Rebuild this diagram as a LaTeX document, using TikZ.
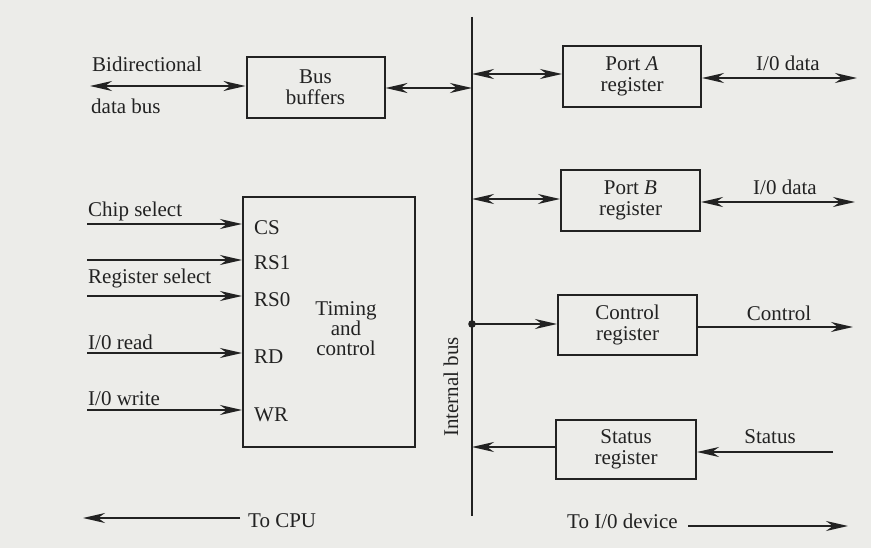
\documentclass[tikz,border=0pt]{standalone}
\usepackage{fontspec}
\setmainfont{Liberation Serif}
\usetikzlibrary{arrows.meta,calc}
\definecolor{paper}{RGB}{236,236,233}
\definecolor{ink}{RGB}{34,34,34}
\tikzset{
  blk/.style={draw=ink, line width=2pt, minimum width=#1, align=center, inner sep=0pt, text=ink},
  lbl/.style={text=ink, inner sep=0pt},
  wire/.style={draw=ink, line width=2pt},
  tip/.style={-{Stealth[length=22pt,width=10pt,inset=7pt]}},
  tip2/.style={{Stealth[length=22pt,width=10pt,inset=7pt]}-{Stealth[length=22pt,width=10pt,inset=7pt]}},
}
\begin{document}
\begin{tikzpicture}[x=1pt,y=-1pt,font=\fontsize{21}{21}\selectfont]
\fill[paper] (0,0) rectangle (871,548);
\useasboundingbox (0,0) rectangle (871,548);

% blocks
\node[blk=138pt, minimum height=61pt] (bb) at (315.5,87.5) {Bus\\[0pt]buffers};
\node[blk=138pt, minimum height=61pt] (pa) at (632,76.5) {Port \textit{A}\\[0pt]register};
\node[blk=139pt, minimum height=61pt] (pb) at (630.5,200.5) {Port \textit{B}\\[0pt]register};
\node[blk=139pt, minimum height=60pt] (cr) at (627.5,325) {Control\\[0pt]register};
\node[blk=140pt, minimum height=59pt] (sr) at (626,449.5) {Status\\[0pt]register};
\node[blk=172pt, minimum height=250pt] (tc) at (329,322) {};

% internal bus
\coordinate (bt) at (472,17);
\coordinate (bm) at (472,516);
\draw[wire] (bt) -- (bm);
\node[lbl, rotate=90] (ib) at (451,387) {Internal bus};

% timing and control contents
\node[lbl, align=center] (tct) at (346,329) {Timing\\[-1pt]and\\[-1pt]control};
\node[lbl, anchor=west] (cs) at (254,228) {CS};
\node[lbl, anchor=west] (rs1) at (254,263) {RS1};
\node[lbl, anchor=west] (rs0) at (254,300) {RS0};
\node[lbl, anchor=west] (rd) at (254,357) {RD};
\node[lbl, anchor=west] (wr) at (254,415) {WR};

% bidirectional data bus
\coordinate (bd) at (90,86);
\draw[wire, tip2] (bd) -- (bb.west |- bd);
\node[lbl, anchor=west] (bdt) at (92,64) {Bidirectional};
\node[lbl, anchor=west] (dbt) at (91,106) {data bus};
\draw[wire, tip2] (bb.east |- 0,88) -- (bt |- 0,88);

% ports
\draw[wire, tip2] (bt |- 0,74) -- (pa.west |- 0,74);
\coordinate (pao) at (857,78);
\draw[wire, tip2] (pa.east |- pao) -- (pao);
\node[lbl] (pat) at (788,63) {I/0 data};

\draw[wire, tip2] (bt |- 0,199) -- (pb.west |- 0,199);
\coordinate (pbo) at (855,202);
\draw[wire, tip2] (pb.east |- pbo) -- (pbo);
\node[lbl] (pbt) at (785,187) {I/0 data};

% control register
\coordinate (cj) at (472,324);
\fill[ink] (cj) circle (3.8pt);
\draw[wire, tip] (cj) -- (cr.west |- cj);
\coordinate (cro) at (853,327);
\draw[wire, tip] (cr.east |- cro) -- (cro);
\node[lbl] (crt) at (779,313) {Control};

% status register
\draw[wire, tip] (sr.west |- 0,447) -- (bt |- 0,447);
\coordinate (sri) at (833,452);
\draw[wire, tip] (sri) -- (sr.east |- sri);
\node[lbl] (srt) at (770,437) {Status};

% control inputs
\coordinate (i1) at (87,224);
\coordinate (i2) at (87,260);
\coordinate (i3) at (87,296);
\coordinate (i4) at (87,353);
\coordinate (i5) at (87,410);
\foreach \c in {i1,i2,i3,i4,i5} \draw[wire, tip] (\c) -- (tc.west |- \c);
\node[lbl, anchor=west] (cst) at (88,211) {Chip select};
\node[lbl, anchor=west] (rst) at (88,278) {Register select};
\node[lbl, anchor=west] (rdt) at (88,342) {I/0 read};
\node[lbl, anchor=west] (wrt) at (88,399) {I/0 write};

% bottom labels
\coordinate (cpuA) at (240,518);
\coordinate (cpuB) at (83,518);
\draw[wire, tip] (cpuA) -- (cpuB);
\node[lbl, anchor=west] (cpu) at (248,521) {To CPU};
\node[lbl, anchor=west] (iod) at (567,521) {To I/0 device};
\coordinate (ioA) at (688,526);
\coordinate (ioB) at (848,526);
\draw[wire, tip] (ioA) -- (ioB);
\end{tikzpicture}
\end{document}
